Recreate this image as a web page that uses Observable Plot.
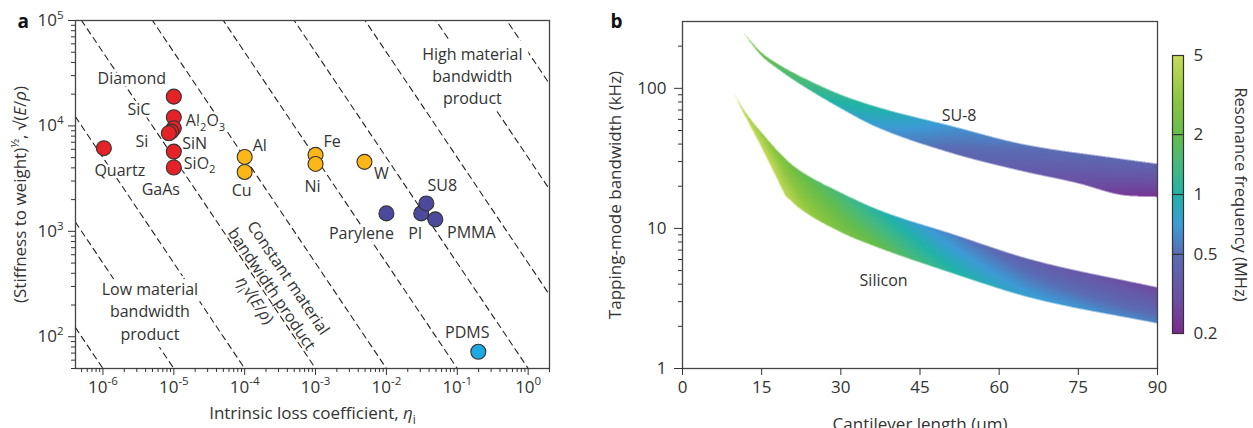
<!DOCTYPE html>
<html><head><meta charset="utf-8">
<script src="https://cdn.jsdelivr.net/npm/d3@7"></script>
<script src="https://cdn.jsdelivr.net/npm/@observablehq/plot@0.6"></script>
<style>
body{margin:0;background:#fff;}
#wrap{position:relative;width:1253px;height:428px;overflow:hidden;background:#fff;}
#wrap > svg{position:absolute;top:0;}
</style></head><body><div id="wrap"></div>
<script>
// ---------------- Panel a data ----------------
const materials = ["Diamond","SiC","Al_{2}O_{3}","SiN","Si","SiO_{2}","GaAs","Quartz","Al","Cu","Fe","Ni","W","Parylene","PI","PMMA","SU8","PDMS"];
const lossCoefficient = [1e-5,1e-5,1e-5,9.2e-6,8.5e-6,1e-5,1e-5,1.03e-6,1e-4,1e-4,1e-3,1e-3,4.9e-3,1e-2,0.031,0.049,0.0366,0.198];
const stiffnessToWeight = [18950,12090,9510,8830,8530,5710,4030,6150,5080,3660,5310,4360,4560,1480,1480,1300,1840,72];
const materialGroup = ["ceramic","ceramic","ceramic","ceramic","ceramic","ceramic","ceramic","ceramic","metal","metal","metal","metal","metal","polymer","polymer","polymer","polymer","elastomer"];
const bandwidthProducts = [5e-5,5e-4,5e-3,5e-2,0.5,5,50,500,5000,50000];
const xTicksA = [1e-6,1e-5,1e-4,1e-3,1e-2,1e-1,1e0];
const yTicksA = [1e2,1e3,1e4,1e5];
const xDomainA = [4.1e-7, 2.0];
const yDomainA = [50, 1e5];
const regionLabels = ["Low material\nbandwidth\nproduct", "High material\nbandwidth\nproduct"];
const regionEta = [4.6e-6, 0.163];
const regionStiffness = [178, 30400];
const constantLabel = "Constant material\nbandwidth product\n~{η}_{i}√(~{E}/~{ρ})";
const constantEta = 2.47e-4, constantStiffness = 287;

// ---------------- Panel b data ----------------
const su8LengthTop = [11.3, 14.9, 18.5, 22.3, 30, 37.5, 50.8, 64.1, 83, 90];
const su8BandwidthTop = [256, 181, 146, 122, 90, 72.4, 54, 40.2, 31.4, 28.9];
const su8LengthBottom = [11.3, 14.9, 18.5, 22.3, 30, 36.5, 50.8, 64.1, 75, 83, 90];
const su8BandwidthBottom = [256, 172, 134, 107, 72, 53.5, 34.7, 25.8, 21, 17.4, 16.8];
const su8LengthFreq = [11.3, 15, 18.5, 22.3, 30, 37.5, 45, 50.8, 60, 66, 75, 83, 90];
const su8FreqTop = [2.5, 2.1, 1.8, 1.55, 1.2, 1.0, 0.8, 0.68, 0.58, 0.53, 0.5, 0.47, 0.45];
const su8FreqBottom = [2.5, 1.9, 1.6, 1.35, 0.9, 0.68, 0.55, 0.47, 0.4, 0.36, 0.3, 0.24, 0.22];

const siLengthTop = [9.67, 12, 15, 19.5, 22.3, 30, 37.5, 50.8, 66, 90];
const siBandwidthTop = [93, 67, 48.3, 31.4, 25.8, 18, 13.4, 9.2, 6.0, 3.79];
const siLengthBottomSteep = [9.67, 12, 15, 19.5];
const siBandwidthBottomSteep = [93, 62, 37.6, 17.1];
const siLengthBottom = [19.5, 22.3, 30, 37.5, 50.8, 66, 90];
const siBandwidthBottom = [17.1, 13.8, 9.4, 7.2, 4.84, 3.2, 2.1];
const siLengthFreq = [9.67, 12, 15, 19.5, 22.3, 30, 37.5, 45, 50.8, 60, 66, 75, 83, 90];
const siFreqTop = [5, 4.2, 3.3, 2.4, 2.0, 1.4, 1.0, 0.72, 0.58, 0.46, 0.4, 0.34, 0.3, 0.27];
const siFreqBottom = [5, 5, 5, 4.6, 3.8, 2.6, 2.0, 1.4, 1.1, 0.85, 0.75, 0.68, 0.62, 0.6];

const bandLabels = ["SU-8", "Silicon"];
const bandLabelLength = [52.4, 38.1];
const bandLabelBandwidth = [63.5, 4.25];
const xTicksB = [0, 15, 30, 45, 60, 75, 90];
const yTicksB = [1, 10, 100];
const colorbarTicks = [0.2, 0.5, 1, 2, 5];
const colorStops = [0.2, 0.3, 0.5, 0.7, 1, 1.4, 2, 3, 5];
const colorStopColors = ["#7b2a8e","#6b50a3","#5b6cb4","#3c9bd6","#21b3a8","#45b97f","#66bd4b","#8cc640","#c8dc5b"];

// ---------------- styles / layout ----------------
const groupColor = {ceramic: "#e42228", metal: "#fbb617", polymer: "#4b4a9c", elastomer: "#1ea9df"};
const labelLayout = {
  "Diamond": [-42, -18, "middle"], "SiC": [-35, -7, "middle"], "Al_{2}O_{3}": [12, -7, "start"],
  "SiN": [11, 12, "start"], "Si": [-27, 9, "middle"], "SiO_{2}": [10, 12, "start"],
  "GaAs": [-13, 22, "middle"], "Quartz": [16, 23, "middle"], "Al": [8, -11, "start"],
  "Cu": [-3, 19, "middle"], "Fe": [8, -13, "start"], "Ni": [-3, 23, "middle"],
  "W": [17, 12, "middle"], "Parylene": [-25, 20, "middle"], "PI": [-6, 20, "middle"],
  "PMMA": [36, 14, "middle"], "SU8": [16, -18, "middle"], "PDMS": [-11, -19, "middle"]
};
const FONT = "'Open Sans', sans-serif";
const TXT = "#333";
const AXIS_LABEL = 17;

const materialData = materials.map((name, i) => ({name, eta: lossCoefficient[i], v: stiffnessToWeight[i], group: materialGroup[i]}));
const productLines = bandwidthProducts.flatMap(c => xDomainA.map(eta => ({c, eta, v: c / eta})));
const minorTicks = (lo, hi, e0, e1) => { const t = []; for (let e = e0; e <= e1; e++) for (let m = 2; m <= 9; m++) { const v = m * Math.pow(10, e); if (v >= lo && v <= hi) t.push(v); } return t; };
const powFmt = d => `10^{${Math.round(Math.log10(d))}}`;

const plotA = Plot.plot({
  width: 600, height: 428, marginLeft: 75, marginRight: 51, marginTop: 20, marginBottom: 60,
  style: {fontFamily: FONT, fontSize: "16px", color: TXT, background: "transparent", overflow: "visible"},
  x: {type: "log", domain: xDomainA},
  y: {type: "log", domain: yDomainA},
  marks: [
    Plot.line(productLines, {x: "eta", y: "v", z: "c", stroke: "#222", strokeWidth: 1.1, strokeDasharray: "6,4.5", clip: true}),
    Plot.text(regionLabels, {x: (d, i) => regionEta[i], y: (d, i) => regionStiffness[i], text: d => d, fontSize: 16, lineHeight: 1.38, fill: TXT, stroke: "white", strokeWidth: 14, strokeLinejoin: "round", paintOrder: "stroke"}),
    Plot.text([constantLabel], {x: () => constantEta, y: () => constantStiffness, text: d => d, rotate: 56, fontSize: 16, lineHeight: 1.25, fill: TXT}),
    ...materialData.map(d => {
      const [dx, dy, anchor] = labelLayout[d.name];
      return Plot.text([d], {x: "eta", y: "v", text: "name", dx, dy, textAnchor: anchor, fontSize: 16, fill: TXT, stroke: "white", strokeWidth: 5, strokeLinejoin: "round", paintOrder: "stroke"});
    }),
    Plot.dot(materialData, {x: "eta", y: "v", r: 7.5, fill: d => groupColor[d.group], stroke: "#333", strokeWidth: 1.1}),
    Plot.frame({stroke: "#444", strokeWidth: 1.3}),
    Plot.axisX(xTicksA, {tickSize: 7, tickPadding: 5, tickFormat: powFmt, fontSize: 17, label: null}),
    Plot.axisX(minorTicks(xDomainA[0], xDomainA[1], -7, 0), {tickSize: 4, tickFormat: () => "", label: null}),
    Plot.axisY(yTicksA, {tickSize: 7, tickPadding: 5, tickFormat: powFmt, fontSize: 17, label: null}),
    Plot.axisY(minorTicks(yDomainA[0], yDomainA[1], 1, 4), {tickSize: 4, tickFormat: () => "", label: null}),
    Plot.text(["Intrinsic loss coefficient, ~{η}_{i}"], {frameAnchor: "bottom", dy: 45, text: d => d, textAnchor: "middle", lineAnchor: "middle", fontSize: AXIS_LABEL, fill: TXT}),
    Plot.text(["(Stiffness to weight)^{½}, √(~{E}/~{ρ})"], {frameAnchor: "left", dx: -55, rotate: -90, text: d => d, textAnchor: "middle", lineAnchor: "middle", fontSize: AXIS_LABEL, fill: TXT}),
    Plot.text(["a"], {frameAnchor: "top-left", dx: -58, dy: 1, text: d => d, textAnchor: "start", lineAnchor: "middle", fontSize: 19, fontWeight: "bold", fill: "#111"})
  ]
});

// monotone cubic (Fritsch–Carlson) in log space, for smooth band edges
function monotoneLog(xs, ys) {
  const n = xs.length, ly = ys.map(Math.log), d = [], m = new Array(n);
  for (let i = 0; i < n - 1; i++) d.push((ly[i + 1] - ly[i]) / (xs[i + 1] - xs[i]));
  m[0] = d[0]; m[n - 1] = d[n - 2];
  for (let i = 1; i < n - 1; i++) m[i] = d[i - 1] * d[i] <= 0 ? 0 : (d[i - 1] + d[i]) / 2;
  for (let i = 0; i < n - 1; i++) {
    if (d[i] === 0) { m[i] = m[i + 1] = 0; continue; }
    const a = m[i] / d[i], b = m[i + 1] / d[i], s = a * a + b * b;
    if (s > 9) { const t = 3 / Math.sqrt(s); m[i] = t * a * d[i]; m[i + 1] = t * b * d[i]; }
  }
  return x => {
    if (x < xs[0] || x > xs[n - 1]) return NaN;
    const i = Math.min(n - 2, Math.max(0, d3.bisectRight(xs, x) - 1));
    const h = xs[i + 1] - xs[i], t = (x - xs[i]) / h, t2 = t * t, t3 = t2 * t;
    return Math.exp((2 * t3 - 3 * t2 + 1) * ly[i] + (t3 - 2 * t2 + t) * h * m[i] + (-2 * t3 + 3 * t2) * ly[i + 1] + (t3 - t2) * h * m[i + 1]);
  };
}
function makeBand(top, bottom, fTop, fBottom, x0, x1) {
  return (x, y) => {
    if (!(x >= x0 && x <= x1)) return undefined;
    const yt = top(x), yb = bottom(x);
    if (!(y <= yt && y >= yb)) return undefined;
    const u = yt === yb ? 0.5 : Math.log(y / yb) / Math.log(yt / yb);
    return Math.exp(Math.log(fBottom(x)) * (1 - u) + Math.log(fTop(x)) * u);
  };
}
const su8Band = makeBand(
  monotoneLog(su8LengthTop, su8BandwidthTop), monotoneLog(su8LengthBottom, su8BandwidthBottom),
  monotoneLog(su8LengthFreq, su8FreqTop), monotoneLog(su8LengthFreq, su8FreqBottom), su8LengthTop[0], 90);
const siBottomSteep = monotoneLog(siLengthBottomSteep, siBandwidthBottomSteep);
const siBottomRest = monotoneLog(siLengthBottom, siBandwidthBottom);
const siBand = makeBand(
  monotoneLog(siLengthTop, siBandwidthTop), x => x <= siLengthBottom[0] ? siBottomSteep(x) : siBottomRest(x),
  monotoneLog(siLengthFreq, siFreqTop), monotoneLog(siLengthFreq, siFreqBottom), siLengthTop[0], 90);
const bandFill = (x, y) => su8Band(x, y) ?? siBand(x, y);

const colorOptions = {type: "log", domain: colorStops, range: colorStopColors, clamp: true};

const plotB = Plot.plot({
  width: 653, height: 428, marginLeft: 82, marginRight: 96, marginTop: 21, marginBottom: 60,
  style: {fontFamily: FONT, fontSize: "16px", color: TXT, background: "transparent", overflow: "visible"},
  x: {domain: [0, 90]},
  y: {type: "log", domain: [1, 300]},
  color: colorOptions,
  marks: [
    Plot.raster({x1: 0, x2: 90, y1: 1, y2: 300, pixelSize: 0.5, fill: bandFill}),
    Plot.text(bandLabels, {x: (d, i) => bandLabelLength[i], y: (d, i) => bandLabelBandwidth[i], text: d => d, fontSize: 16, fill: TXT}),
    Plot.frame({stroke: "#444", strokeWidth: 1.3}),
    Plot.axisX(xTicksB, {tickSize: 7, tickPadding: 5, fontSize: 17, label: null}),
    Plot.axisY(yTicksB, {tickSize: 8, tickPadding: 8, tickFormat: d => String(d), fontSize: 17, label: null}),
    Plot.axisY(minorTicks(1, 250, 0, 2), {tickSize: 4, tickFormat: () => "", label: null}),
    Plot.text(["Cantilever length (µm)"], {frameAnchor: "bottom", dy: 56, text: d => d, textAnchor: "middle", lineAnchor: "middle", fontSize: AXIS_LABEL, fill: TXT}),
    Plot.text(["Tapping-mode bandwidth (kHz)"], {frameAnchor: "left", dx: -67, rotate: -90, text: d => d, textAnchor: "middle", lineAnchor: "middle", fontSize: AXIS_LABEL, fill: TXT}),
    Plot.text(["b"], {frameAnchor: "top-left", dx: -72, dy: 0, text: d => d, textAnchor: "start", lineAnchor: "middle", fontSize: 19, fontWeight: "bold", fill: "#111"})
  ]
});

const plotC = Plot.plot({
  width: 103, height: 428, marginLeft: 22, marginRight: 70, marginTop: 55, marginBottom: 95,
  style: {fontFamily: FONT, fontSize: "16px", color: TXT, background: "transparent", overflow: "visible"},
  x: {domain: [0, 1], axis: null},
  y: {type: "log", domain: [0.2, 5]},
  color: colorOptions,
  marks: [
    Plot.raster({x1: 0, x2: 1, y1: 0.2, y2: 5, pixelSize: 0.5, fill: (x, y) => y}),
    Plot.ruleY([0.5, 1, 2], {stroke: "#333", strokeWidth: 1.2}),
    Plot.frame({stroke: "#333", strokeWidth: 1.2}),
    Plot.axisY(colorbarTicks, {anchor: "right", tickSize: 0, tickPadding: 10, tickFormat: d => String(d), fontSize: 17, label: null}),
    Plot.text(["Resonance frequency (MHz)"], {frameAnchor: "right", dx: 57, rotate: 90, text: d => d, textAnchor: "middle", lineAnchor: "middle", fontSize: 16.5, fill: TXT})
  ]
});

const wrap = document.getElementById("wrap");
plotA.style.left = "0px"; plotB.style.left = "600px"; plotC.style.left = "1150px";
wrap.append(plotA, plotB, plotC);

// rich text: _{sub}, ^{sup}, ~{italic}; drop the empty minor-tick labels
function richText(svg) {
  const NS = "http://www.w3.org/2000/svg";
  for (const el of [...svg.querySelectorAll("text")]) if (el.textContent.trim() === "") el.remove();
  const leaves = [...svg.querySelectorAll("text, tspan")].filter(el => el.children.length === 0 && /[_^~]\{/.test(el.textContent));
  for (const el of leaves) {
    const s = el.textContent;
    const fs = parseFloat(getComputedStyle(el).fontSize) || 16;
    el.textContent = "";
    let shift = 0;
    const add = (txt, kind) => {
      const t = document.createElementNS(NS, "tspan");
      let target = 0;
      if (kind === "_") { t.style.fontSize = "70%"; target = 0.3 * fs; }
      else if (kind === "^") { t.style.fontSize = "68%"; target = -0.42 * fs; }
      else if (kind === "~") { t.style.fontStyle = "italic"; }
      if (target !== shift) { t.setAttribute("dy", String(target - shift)); shift = target; }
      t.textContent = txt;
      el.appendChild(t);
    };
    const re = /([_^~])\{([^}]*)\}/g;
    let last = 0, m;
    while ((m = re.exec(s))) {
      if (m.index > last) add(s.slice(last, m.index), "");
      add(m[2], m[1]);
      last = re.lastIndex;
    }
    if (last < s.length) add(s.slice(last), "");
  }
}
[plotA, plotB, plotC].forEach(richText);
</script>
</body></html>
